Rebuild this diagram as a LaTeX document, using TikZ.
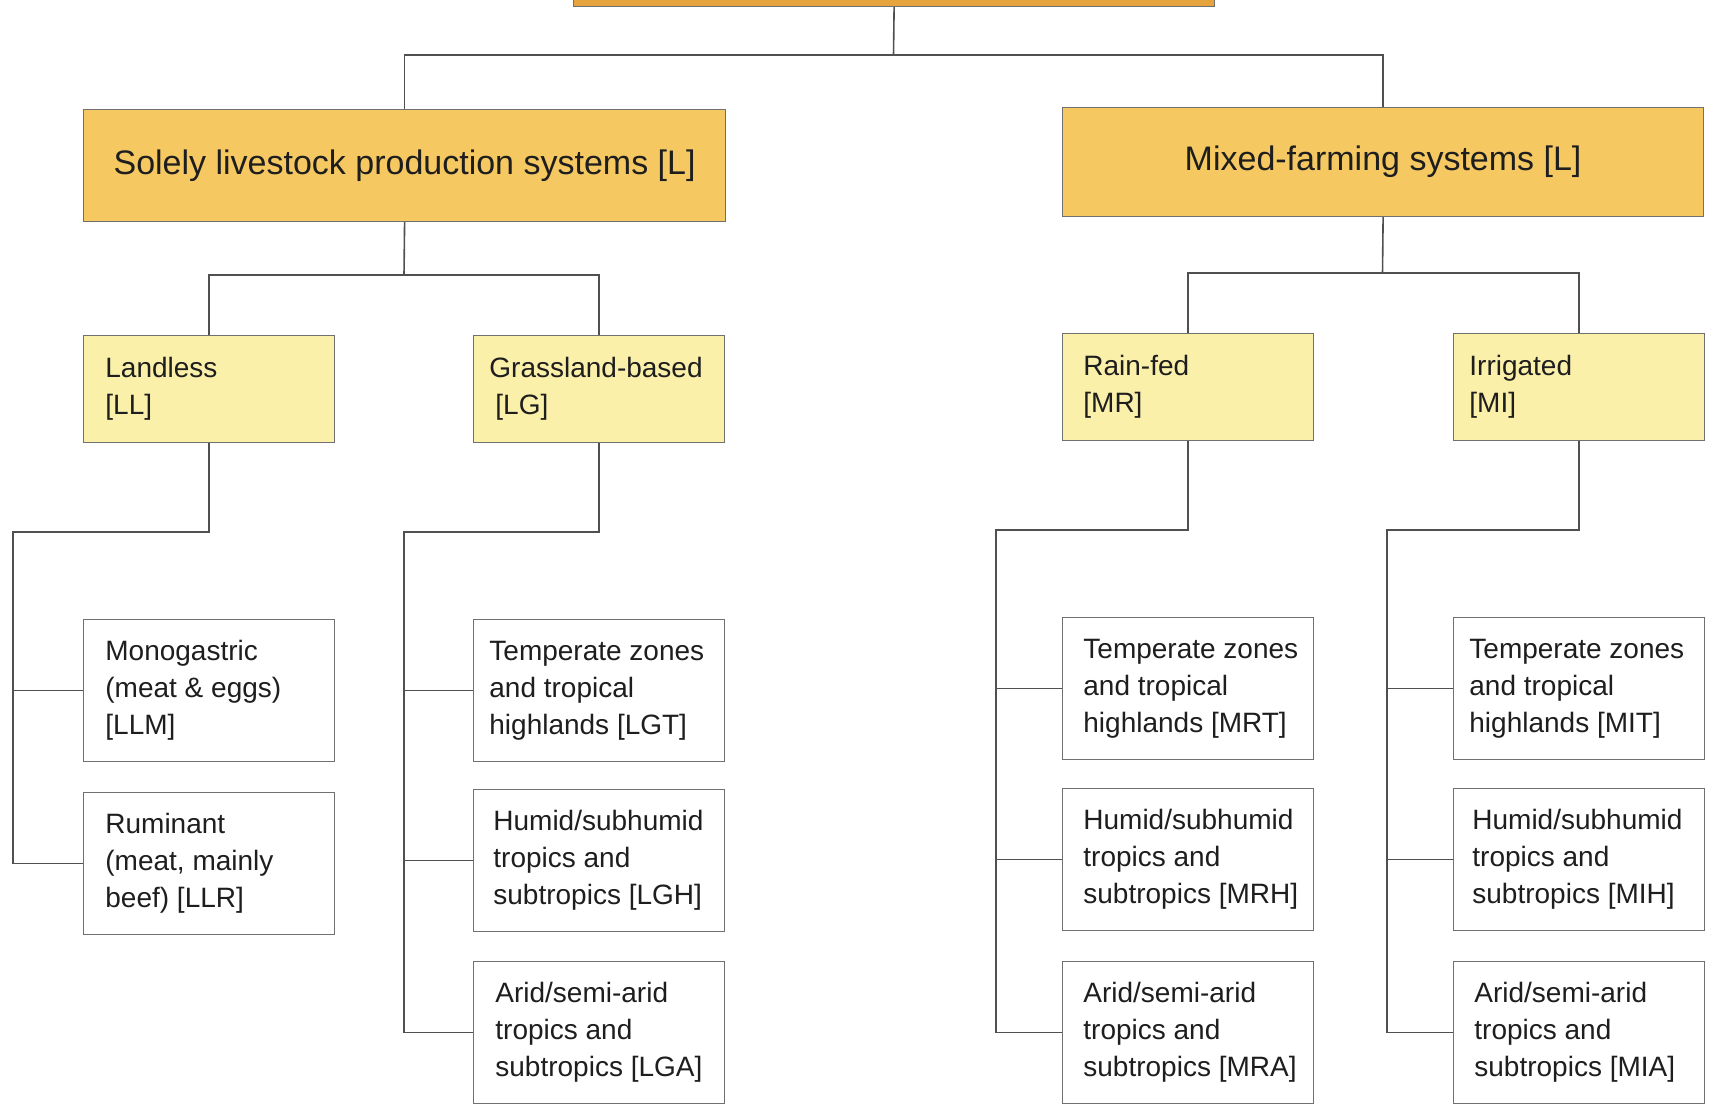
\documentclass[tikz,border=0pt]{standalone}
\usepackage{fontspec}
\setmainfont{Liberation Sans}
\usetikzlibrary{calc}
\definecolor{orangebox}{HTML}{E6A43E}
\definecolor{goldbox}{HTML}{F5C862}
\definecolor{lightbox}{HTML}{FBF0AA}
\definecolor{edgecol}{HTML}{707070}
\definecolor{linecol}{HTML}{505050}
\definecolor{txtcol}{HTML}{1E1E1E}
\tikzset{
 boxbase/.style={draw=edgecol, line width=0.6pt, rectangle, inner sep=0pt, anchor=north west},
 topbox/.style={boxbase, fill=orangebox, minimum width=320.5pt, minimum height=30pt},
 mainbox/.style={boxbase, fill=goldbox, text=txtcol, font=\fontsize{17}{20}\selectfont},
 subbox/.style={boxbase, fill=lightbox, minimum width=125.5pt, minimum height=53.5pt},
 leafbox/.style={boxbase, fill=white, minimum width=125.5pt, minimum height=71pt},
 boxtext/.style={anchor=west, align=left, inner sep=0pt, text=txtcol, font=\fontsize{14}{18.5}\selectfont},
 link/.style={draw=linecol, line width=0.8pt},
}
\newcommand\mkbox[6]{%
 \node[#1] (#2) at (#3,#4) {};
 \node[boxtext] (#2t) at ([xshift=#5]#2.west) {#6};}
\begin{document}
\begin{tikzpicture}[x=0.5pt,y=-0.5pt]
\clip (0,0) rectangle (1712,1105);
\fill[white] (0,0) rectangle (1712,1105);
% top level
\node[topbox] (top) at (573,-54) {};
\node[mainbox, minimum width=321pt, minimum height=56pt] (solely) at (83,109) {Solely livestock production systems [L]};
\node[mainbox, minimum width=320.5pt, minimum height=54.5pt] (mixed) at (1062,107) {Mixed-farming systems [L]};
% second level
\mkbox{subbox}{ll}{83}{335}{11pt}{Landless\\{[LL]}}
\mkbox{subbox}{lg}{473}{335}{8pt}{Grassland-based\\\hspace{3pt}[LG]}
\mkbox{subbox}{mr}{1062}{333}{10.5pt}{Rain-fed\\{[MR]}}
\mkbox{subbox}{mi}{1453}{333}{8pt}{Irrigated\\{[MI]}}
% leaves
\mkbox{leafbox}{llm}{83}{619}{11pt}{Monogastric\\(meat \& eggs)\\{[LLM]}}
\mkbox{leafbox}{llr}{83}{792}{11pt}{Ruminant\\(meat, mainly\\beef) [LLR]}
\mkbox{leafbox}{lgt}{473}{619}{8pt}{Temperate zones\\and tropical\\highlands [LGT]}
\mkbox{leafbox}{lgh}{473}{789}{10pt}{Humid/subhumid\\tropics and\\subtropics [LGH]}
\mkbox{leafbox}{lga}{473}{961}{11pt}{Arid/semi-arid\\tropics and\\subtropics [LGA]}
\mkbox{leafbox}{mrt}{1062}{617}{10.5pt}{Temperate zones\\and tropical\\highlands [MRT]}
\mkbox{leafbox}{mrh}{1062}{788}{10.5pt}{Humid/subhumid\\tropics and\\subtropics [MRH]}
\mkbox{leafbox}{mra}{1062}{961}{10.5pt}{Arid/semi-arid\\tropics and\\subtropics [MRA]}
\mkbox{leafbox}{mit}{1453}{617}{8pt}{Temperate zones\\and tropical\\highlands [MIT]}
\mkbox{leafbox}{mih}{1453}{788}{9.5pt}{Humid/subhumid\\tropics and\\subtropics [MIH]}
\mkbox{leafbox}{mia}{1453}{961}{10.5pt}{Arid/semi-arid\\tropics and\\subtropics [MIA]}
% junctions
\coordinate (j0) at (893.5,55);
\coordinate (j1) at (404,275);
\coordinate (j1m) at (1382.5,273);
\coordinate (j2) at (13,532);
\coordinate (j3) at (404,532);
\coordinate (j4) at (996,530);
\coordinate (j5) at (1387,530);
% connectors
\draw[link] (top.south) -- (j0);
\draw[link] (solely.north) |- (j0) -| (mixed.north);
\draw[link] (solely.south) -- (j1);
\draw[link] (ll.north) |- (j1) -| (lg.north);
\draw[link] (mixed.south) -- (j1m);
\draw[link] (mr.north) |- (j1m) -| (mi.north);
\draw[link] (ll.south) |- (j2) |- (llr.west);
\draw[link] (llm.west) -- (j2 |- llm.west);
\draw[link] (lg.south) |- (j3) |- (lga.west);
\draw[link] (lgt.west) -- (j3 |- lgt.west);
\draw[link] (lgh.west) -- (j3 |- lgh.west);
\draw[link] (mr.south) |- (j4) |- (mra.west);
\draw[link] (mrt.west) -- (j4 |- mrt.west);
\draw[link] (mrh.west) -- (j4 |- mrh.west);
\draw[link] (mi.south) |- (j5) |- (mia.west);
\draw[link] (mit.west) -- (j5 |- mit.west);
\draw[link] (mih.west) -- (j5 |- mih.west);
\end{tikzpicture}
\end{document}
